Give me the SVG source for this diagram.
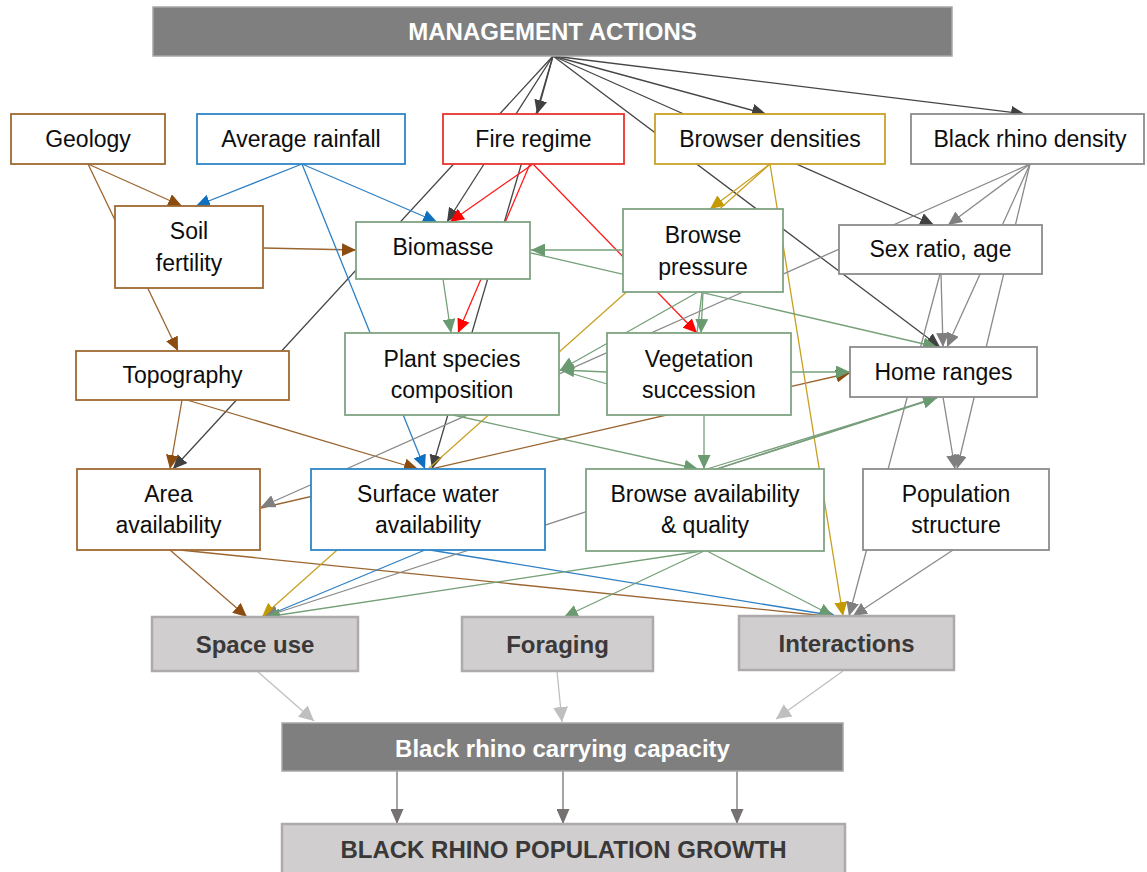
<svg xmlns="http://www.w3.org/2000/svg" width="1147" height="872" viewBox="0 0 1147 872">
<style>
.bg{fill:#ffffff}
.n rect{fill:#ffffff;stroke-width:1.8}
.brn rect{stroke:#9E6A32}
.blu rect{stroke:#2E86C8}
.red rect{stroke:#E8332F}
.gld rect{stroke:#C9A227}
.gry rect{stroke:#8C8C8C}
.grn rect{stroke:#7FA383}
.n text{font-family:"Liberation Sans",Arial,sans-serif;font-size:23px;fill:#0d0d0d;text-anchor:middle}
.hd rect{fill:#7F7F7F;stroke:#A6A6A6;stroke-width:1.5}
.hd text{font-family:"Liberation Sans",Arial,sans-serif;font-size:24px;font-weight:bold;fill:#ffffff;text-anchor:middle}
.out rect{fill:#D0CECE;stroke:#AEAAAA;stroke-width:2.5}
.out text{font-family:"Liberation Sans",Arial,sans-serif;font-size:24px;font-weight:bold;fill:#3A3838;text-anchor:middle}
#connectors path{fill:none;stroke-width:1.3}
.k{stroke:#454545}
.g{stroke:#8A8A8A}
.b{stroke:#9B6530}
.u{stroke:#2F80C4}
.r{stroke:#FF1A1A}
.y{stroke:#C8A020}
.e{stroke:#75A078}
.l{stroke:#BFBFBF;stroke-width:1.5}
.m{stroke:#767171;stroke-width:1.5}
</style>
<defs>
<marker id="ak" viewBox="0 0 14 13" refX="14" refY="6.5" markerWidth="14" markerHeight="13" markerUnits="userSpaceOnUse" orient="auto"><path d="M0,0L14,6.5L0,13z" fill="#404040"/></marker>
<marker id="ag" viewBox="0 0 14 13" refX="14" refY="6.5" markerWidth="14" markerHeight="13" markerUnits="userSpaceOnUse" orient="auto"><path d="M0,0L14,6.5L0,13z" fill="#7F7F7F"/></marker>
<marker id="ab" viewBox="0 0 14 13" refX="14" refY="6.5" markerWidth="14" markerHeight="13" markerUnits="userSpaceOnUse" orient="auto"><path d="M0,0L14,6.5L0,13z" fill="#8C4C10"/></marker>
<marker id="au" viewBox="0 0 14 13" refX="14" refY="6.5" markerWidth="14" markerHeight="13" markerUnits="userSpaceOnUse" orient="auto"><path d="M0,0L14,6.5L0,13z" fill="#1070C0"/></marker>
<marker id="ar" viewBox="0 0 14 13" refX="14" refY="6.5" markerWidth="14" markerHeight="13" markerUnits="userSpaceOnUse" orient="auto"><path d="M0,0L14,6.5L0,13z" fill="#FF0000"/></marker>
<marker id="ay" viewBox="0 0 14 13" refX="14" refY="6.5" markerWidth="14" markerHeight="13" markerUnits="userSpaceOnUse" orient="auto"><path d="M0,0L14,6.5L0,13z" fill="#C49A00"/></marker>
<marker id="ae" viewBox="0 0 14 13" refX="14" refY="6.5" markerWidth="14" markerHeight="13" markerUnits="userSpaceOnUse" orient="auto"><path d="M0,0L14,6.5L0,13z" fill="#6A9A6F"/></marker>
<marker id="al" viewBox="0 0 15 15" refX="15" refY="7.5" markerWidth="15" markerHeight="15" markerUnits="userSpaceOnUse" orient="auto"><path d="M0,0L15,7.5L0,15z" fill="#BFBFBF"/></marker>
<marker id="am" viewBox="0 0 15 13" refX="15" refY="6.5" markerWidth="15" markerHeight="13" markerUnits="userSpaceOnUse" orient="auto"><path d="M0,0L15,6.5L0,13z" fill="#767171"/></marker>
</defs>
<rect class="bg" x="0" y="0" width="1147" height="872"/>
<g id="connectors">
<!-- management actions -->
<path class="k" d="M553,56L537,114" marker-end="url(#ak)"/>
<path class="k" d="M553,56L766,114" marker-end="url(#ak)"/>
<path class="k" d="M553,56L1025,114" marker-end="url(#ak)"/>
<path class="k" d="M553,56L173,469" marker-end="url(#ak)"/>
<path class="k" d="M553,56L447,222" marker-end="url(#ak)"/>
<path class="k" d="M553,56L432,469" marker-end="url(#ak)"/>
<path class="k" d="M553,56L940,347" marker-end="url(#ak)"/>
<path class="k" d="M553,56L934,225" marker-end="url(#ak)"/>
<!-- brown -->
<path class="b" d="M88,164L182,206" marker-end="url(#ab)"/>
<path class="b" d="M88,164L178,351" marker-end="url(#ab)"/>
<path class="b" d="M263,248L356,250" marker-end="url(#ab)"/>
<path class="b" d="M182,400L170,469" marker-end="url(#ab)"/>
<path class="b" d="M187,400L418,469" marker-end="url(#ab)"/>
<path class="b" d="M261,508L850,373" marker-end="url(#ab)"/>
<path class="b" d="M170,550L247,617" marker-end="url(#ab)"/>
<path class="b" d="M180,550L836,617" marker-end="url(#ab)"/>
<!-- blue -->
<path class="u" d="M302,164L196,206" marker-end="url(#au)"/>
<path class="u" d="M302,164L437,222" marker-end="url(#au)"/>
<path class="u" d="M302,164L425,469" marker-end="url(#au)"/>
<path class="u" d="M425,550L264,617" marker-end="url(#au)"/>
<path class="u" d="M430,550L836,616" marker-end="url(#au)"/>
<!-- red -->
<path class="r" d="M533,164L450,222" marker-end="url(#ar)"/>
<path class="r" d="M530,164L458,333" marker-end="url(#ar)"/>
<path class="r" d="M533,164L697,333" marker-end="url(#ar)"/>
<!-- gold -->
<path class="y" d="M770,164L710,209" marker-end="url(#ay)"/>
<path class="y" d="M770,164L262,617" marker-end="url(#ay)"/>
<path class="y" d="M770,164L843,616" marker-end="url(#ay)"/>
<!-- gray -->
<path class="g" d="M1030,164L948,225" marker-end="url(#ag)"/>
<path class="g" d="M1030,164L261,507" marker-end="url(#ag)"/>
<path class="g" d="M1030,164L947,347" marker-end="url(#ag)"/>
<path class="g" d="M1030,164L957,469" marker-end="url(#ag)"/>
<path class="g" d="M941,274L943,347" marker-end="url(#ag)"/>
<path class="g" d="M940,274L849,616" marker-end="url(#ag)"/>
<path class="g" d="M943,397L955,469" marker-end="url(#ag)"/>
<path class="g" d="M937,397L264,617" marker-end="url(#ag)"/>
<path class="g" d="M953,550L853,616" marker-end="url(#ag)"/>
<!-- green -->
<path class="e" d="M623,250L531,250" marker-end="url(#ae)"/>
<path class="e" d="M531,253L937,347" marker-end="url(#ae)"/>
<path class="e" d="M443,279L451,333" marker-end="url(#ae)"/>
<path class="e" d="M702,292L697,333"/>
<path class="e" d="M703,292L701,333" marker-end="url(#ae)"/>
<path class="e" d="M698,292L560,370" marker-end="url(#ae)"/>
<path class="e" d="M607,384L560,370"/>
<path class="e" d="M607,372L560,370" marker-end="url(#ae)"/>
<path class="e" d="M791,372L850,372" marker-end="url(#ae)"/>
<path class="e" d="M453,415L698,469" marker-end="url(#ae)"/>
<path class="e" d="M704,415L704,469" marker-end="url(#ae)"/>
<path class="e" d="M717,469L937,398"/>
<path class="e" d="M707,469L937,398" marker-end="url(#ae)"/>
<path class="e" d="M702,551L266,617" marker-end="url(#ae)"/>
<path class="e" d="M704,551L564,617" marker-end="url(#ae)"/>
<path class="e" d="M707,551L833,616" marker-end="url(#ae)"/>
<!-- outcomes -->
<path class="l" d="M257,671L314,721" marker-end="url(#al)"/>
<path class="l" d="M557,671L562,722" marker-end="url(#al)"/>
<path class="l" d="M843,671L776,719" marker-end="url(#al)"/>
<path class="m" d="M397,771L397,824" marker-end="url(#am)"/>
<path class="m" d="M563,771L563,824" marker-end="url(#am)"/>
<path class="m" d="M737,771L737,824" marker-end="url(#am)"/>
</g>
<g id="management-actions" class="hd"><rect x="153" y="7" width="799" height="49"/><text x="552.5" y="40">MANAGEMENT ACTIONS</text></g>
<g id="geology" class="n brn"><rect x="11" y="114" width="154" height="50"/><text x="88" y="147">Geology</text></g>
<g id="average-rainfall" class="n blu"><rect x="197" y="114" width="208" height="50"/><text x="301" y="147">Average rainfall</text></g>
<g id="fire-regime" class="n red"><rect x="443" y="114" width="181" height="50"/><text x="533.5" y="147">Fire regime</text></g>
<g id="browser-densities" class="n gld"><rect x="655" y="114" width="230" height="50"/><text x="770" y="147">Browser densities</text></g>
<g id="black-rhino-density" class="n gry"><rect x="911" y="114" width="233" height="50"/><text x="1030" y="147">Black rhino density</text></g>
<g id="soil-fertility" class="n brn"><rect x="115" y="206" width="148" height="82"/><text x="189" y="239">Soil</text><text x="189" y="271">fertility</text></g>
<g id="biomasse" class="n grn"><rect x="356" y="222" width="174" height="57"/><text x="443" y="255">Biomasse</text></g>
<g id="browse-pressure" class="n grn"><rect x="623" y="209" width="160" height="83"/><text x="703" y="243">Browse</text><text x="703" y="275">pressure</text></g>
<g id="sex-ratio-age" class="n gry"><rect x="839" y="225" width="203" height="49"/><text x="940.5" y="257">Sex ratio, age</text></g>
<g id="topography" class="n brn"><rect x="76" y="351" width="213" height="49"/><text x="182.5" y="383">Topography</text></g>
<g id="plant-species-composition" class="n grn"><rect x="345" y="333" width="214" height="82"/><text x="452" y="367">Plant species</text><text x="452" y="398">composition</text></g>
<g id="vegetation-succession" class="n grn"><rect x="607" y="333" width="184" height="82"/><text x="699" y="367">Vegetation</text><text x="699" y="398">succession</text></g>
<g id="home-ranges" class="n gry"><rect x="850" y="347" width="187" height="50"/><text x="943.5" y="380">Home ranges</text></g>
<g id="area-availability" class="n brn"><rect x="77" y="469" width="183" height="81"/><text x="168.5" y="502">Area</text><text x="168.5" y="533">availability</text></g>
<g id="surface-water-availability" class="n blu"><rect x="311" y="469" width="234" height="81"/><text x="428" y="502">Surface water</text><text x="428" y="533">availability</text></g>
<g id="browse-availability-quality" class="n grn"><rect x="586" y="469" width="238" height="82"/><text x="705" y="502">Browse availability</text><text x="705" y="533">&amp; quality</text></g>
<g id="population-structure" class="n gry"><rect x="863" y="469" width="186" height="81"/><text x="956" y="502">Population</text><text x="956" y="533">structure</text></g>
<g id="space-use" class="out"><rect x="152" y="617" width="206" height="54"/><text x="255" y="653">Space use</text></g>
<g id="foraging" class="out"><rect x="462" y="617" width="191" height="54"/><text x="557.5" y="653">Foraging</text></g>
<g id="interactions" class="out"><rect x="739" y="616" width="215" height="54"/><text x="846.5" y="652">Interactions</text></g>
<g id="carrying-capacity" class="hd"><rect x="282" y="723" width="561" height="48"/><text x="562.5" y="757">Black rhino carrying capacity</text></g>
<g id="population-growth" class="out"><rect x="282" y="824" width="563" height="60"/><text x="563.5" y="858">BLACK RHINO POPULATION GROWTH</text></g>
</svg>
